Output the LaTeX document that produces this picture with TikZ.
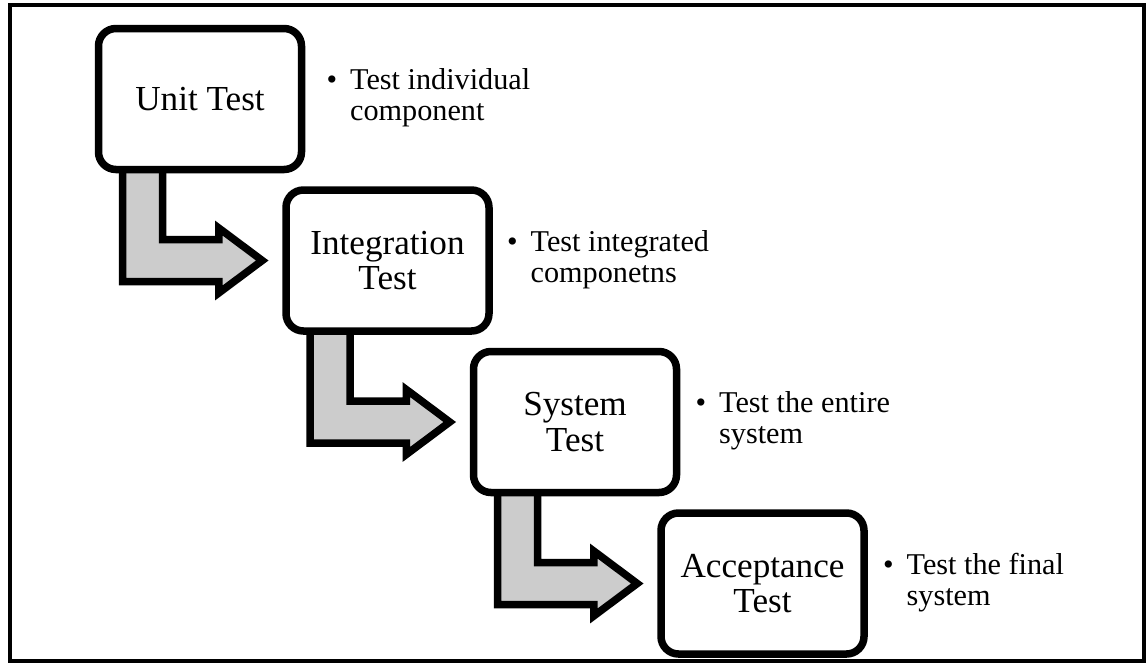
\documentclass[tikz,border=0pt]{standalone}
\usepackage{fontspec}
\setmainfont{Liberation Serif}
\usetikzlibrary{positioning, calc, backgrounds, shadows}

% bent arrow from one stage box down to the next
\newcommand{\bentarrow}[2]{%
    \draw[steparrow] ($(#1.center)+(-1.55,-1.2)$)
        |- ($(#2.west)+(-1.27,-0.42)$) -- ++(0,-0.23)
        -- ($(#2.west)+(-0.4,0)$)
        -- ($(#2.west)+(-1.27,0.65)$) -- ++(0,-0.23)
        -| ($(#1.center)+(-0.75,-1.2)$) -- cycle;%
}

\begin{document}
\begin{tikzpicture}[
        node distance=0.26cm and -0.46cm,
        stage/.style={
            rectangle, draw=black, line width=0.15cm, fill=white, rounded corners=0.35cm,
            minimum width=4.06cm, minimum height=2.82cm, align=center,
            drop shadow={opacity=0.12, shadow xshift=0.03cm, shadow yshift=-0.03cm},
            font=\fontsize{20}{20}\selectfont
        },
        note/.style={
            inner sep=0pt, font=\fontsize{17.2}{17.6}\selectfont
        },
        steparrow/.style={draw=black, fill=black!20, line width=0.15cm}
    ]
        \useasboundingbox (0,0) rectangle (22.92,-13.24);
        \draw[line width=0.08cm] (0.19,-0.1) rectangle (22.88,-13.22);

        % Stages
        \node[stage] (unit) at (4.0,-1.98) {Unit Test};
        \node[stage, below right=of unit] (integ) {Integration\\Test};
        \node[stage, below right=of integ] (sys) {System\\Test};
        \node[stage, below right=of sys] (accept) {Acceptance\\Test};

        % Notes
        \node[note, right=0.42cm of unit] (unitnote) {\begin{tabular}{@{}l@{\hspace{0.26cm}}l@{}}\textbullet & Test individual\\ & component\end{tabular}};
        \node[note, right=0.28cm of integ] (integnote) {\begin{tabular}{@{}l@{\hspace{0.26cm}}l@{}}\textbullet & Test integrated\\ & componetns\end{tabular}};
        \node[note, right=0.3cm of sys] (sysnote) {\begin{tabular}{@{}l@{\hspace{0.26cm}}l@{}}\textbullet & Test the entire\\ & system\end{tabular}};
        \node[note, right=0.3cm of accept] (acceptnote) {\begin{tabular}{@{}l@{\hspace{0.26cm}}l@{}}\textbullet & Test the final\\ & system\end{tabular}};

        % Flow arrows
        \begin{scope}[on background layer]
            \bentarrow{unit}{integ}
            \bentarrow{integ}{sys}
            \bentarrow{sys}{accept}
        \end{scope}
    \end{tikzpicture}
\end{document}
